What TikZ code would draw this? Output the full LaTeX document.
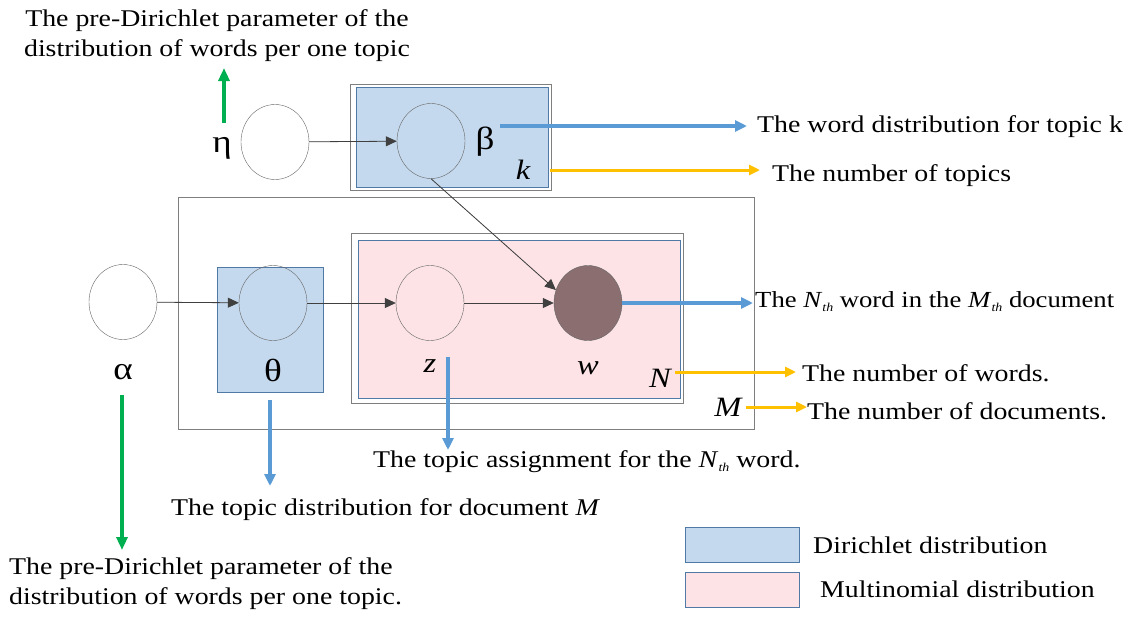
\documentclass[tikz,border=0pt]{standalone}
\usepackage{fontspec}
\setmainfont{Liberation Serif}[FakeStretch=1.16]
\usetikzlibrary{arrows.meta,positioning,shapes.geometric}
\definecolor{dirfill}{HTML}{C5D9EE}
\definecolor{dirline}{HTML}{5079A6}
\definecolor{mulfill}{HTML}{FDE3E6}
\definecolor{plategray}{HTML}{7F7F7F}
\definecolor{arrblue}{HTML}{5B9BD5}
\definecolor{arrgold}{HTML}{FFC000}
\definecolor{arrgreen}{HTML}{00B050}
\definecolor{obsfill}{HTML}{8B6F70}
\definecolor{tipnavy}{HTML}{1F2F45}
\tikzset{var/.style={ellipse,draw=black!60,minimum width=68pt,minimum height=75pt,inner sep=0pt},edge/.style={-{Triangle[length=11pt,width=10pt]},draw=black!75,fill=tipnavy,line width=.8pt},bluarr/.style={-{Triangle[length=12pt,width=11pt]},line width=3.5pt,arrblue},goldarr/.style={-{Triangle[length=11pt,width=10pt]},line width=3pt,arrgold},grnarr/.style={-{Triangle[length=13pt,width=11pt]},line width=3.5pt,arrgreen},txt/.style={font=\fontsize{24}{30}\selectfont,inner sep=0pt},sym/.style={font=\fontsize{32}{32}\selectfont,inner sep=0pt},isym/.style={font=\fontsize{28}{28}\selectfont\itshape,inner sep=0pt},legbox/.style={draw=dirline,line width=1pt,minimum width=114pt,minimum height=35pt}}
\newcommand{\thsub}[1]{\textit{#1}\raisebox{-4pt}{\fontsize{12}{12}\selectfont\textit{th}}}

\begin{document}
\begin{tikzpicture}[x=1pt,y=-1pt]
\useasboundingbox (0,0) rectangle (1132,616);
\draw[plategray,line width=1pt] (350,84) rectangle (551,190);
\draw[dirline,fill=dirfill,line width=1pt] (356,87) rectangle (548,187);
\draw[plategray,line width=1pt] (178,197) rectangle (754,429);
\draw[plategray,line width=1pt] (351,233) rectangle (683,403);
\draw[dirline,fill=mulfill,line width=1pt] (358,240) rectangle (680,398);
\draw[dirline,fill=dirfill,line width=1pt] (217,267) rectangle (323,392);
\node[var] (eta) at (275,142) {};
\node[var] (beta) at (431,141) {};
\node[var] (alpha) at (123,302) {};
\node[var] (theta) at (273,303) {};
\node[var] (z) at (430,303) {};
\node[var,fill=obsfill] (w) at (588,303) {};
\node[sym] (etal) at (222,148) {η};
\node[sym] (betal) at (485,142) {β};
\node[isym] (kl) at (523,170) {k};
\node[sym] (alphal) at (123,372) {α};
\node[sym] (thetal) at (273,370) {θ};
\node[isym] (zl) at (430,366) {z};
\node[isym] (wl) at (588,368) {w};
\node[isym] (nl) at (660,378) {N};
\node[isym] (ml) at (728,407) {M};
\draw[edge] (eta) -- (beta);
\draw[edge] (alpha) -- (theta);
\draw[edge] (theta) -- (z);
\draw[edge] (z) -- (w);
\draw[edge] (beta.south) -- (w.158);
\node[txt,align=center] (toptxt) at (217,36) {The pre-Dirichlet parameter of the\\distribution of words per one topic};
\node[txt,anchor=west] (wordtopic) at (757,127) {The word distribution for topic k};
\node[txt,anchor=west] (numtopics) at (772,176) {The number of topics};
\node[txt,anchor=west,font=\fontsize{23}{30}\selectfont] (nthword) at (755,302) {The \thsub{N} word in the \thsub{M} document};
\node[txt,anchor=west] (numwords) at (802,373) {The number of words.};
\node[txt,anchor=west] (numdocs) at (807,411) {The number of documents.};
\node[txt,anchor=west] (topicassign) at (373,462) {The topic assignment for the \thsub{N} word.};
\node[txt,anchor=west] (topicdist) at (171,510) {The topic distribution for document \textit{M}};
\node[txt,align=left,anchor=north west] (bottxt) at (9,557) {The pre-Dirichlet parameter of the\\distribution of words per one topic.};
\coordinate (etaup) at (224,123);
\coordinate (etatop) at (224,68);
\coordinate (betaout) at (500,126);
\coordinate (kout) at (550,170);
\coordinate (nout) at ([shift={(4pt,6pt)}]nl.east);
\coordinate (mout) at ([xshift=4pt]ml.east);
\coordinate (zdown) at (448,357);
\coordinate (zend) at (448,450);
\coordinate (thdown) at (270,400);
\coordinate (thend) at (270,486);
\coordinate (aldown) at (122,395);
\coordinate (alend) at (122,550);
\draw[grnarr] (etaup) -- (etatop);
\draw[bluarr] (betaout) -- ([xshift=-10pt]betaout -| wordtopic.west);
\draw[goldarr] (kout) -- ([xshift=-12pt]kout -| numtopics.west);
\draw[bluarr] (w.east) -- ([xshift=-2pt]w.east -| nthword.west);
\draw[goldarr] (nout) -- ([xshift=-6pt]nout -| numwords.west);
\draw[goldarr] (mout) -- (mout -| numdocs.west);
\draw[bluarr] (zdown) -- (zend);
\draw[bluarr] (thdown) -- (thend);
\draw[grnarr] (aldown) -- (alend);
\node[legbox,fill=dirfill] (dirbox) at (742,545) {};
\node[legbox,fill=mulfill] (mulbox) at (742,590) {};
\node[txt,anchor=west] (dirtxt) at (813,545) {Dirichlet distribution};
\node[txt,anchor=west] (multxt) at (820,589) {Multinomial distribution};
\end{tikzpicture}
\end{document}
